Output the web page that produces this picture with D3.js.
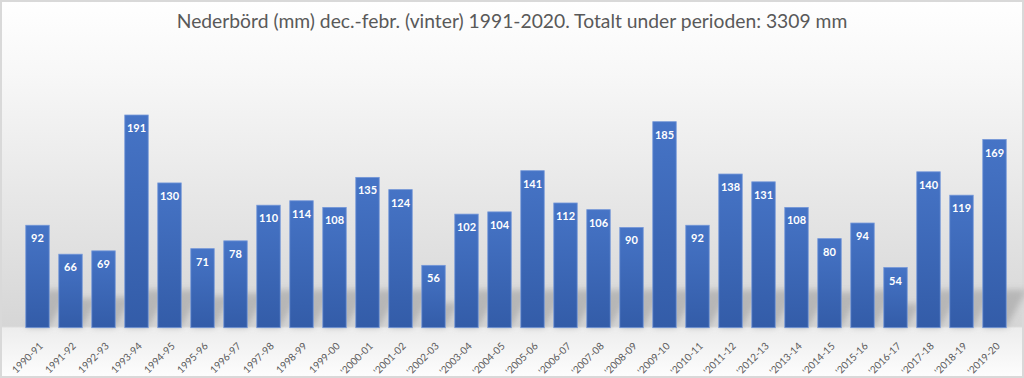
<!DOCTYPE html>
<html>
<head>
<meta charset="utf-8">
<script src="https://cdn.jsdelivr.net/npm/d3@7"></script>
<style>
  html, body { margin: 0; padding: 0; background: #ffffff; }
  svg { display: block; }
</style>
</head>
<body>
<div id="chart"></div>
<script>
const titleText = "Nederbörd (mm) dec.-febr. (vinter) 1991-2020. Totalt under perioden: 3309 mm";
const categories = ["1990-91","1991-92","1992-93","1993-94","1994-95","1995-96","1996-97","1997-98","1998-99","1999-00",
  "'2000-01","'2001-02","'2002-03","'2003-04","'2004-05","'2005-06","'2006-07","'2007-08","'2008-09","'2009-10",
  "'2010-11","'2011-12","'2012-13","'2013-14","'2014-15","'2015-16","'2016-17","'2017-18","'2018-19","'2019-20"];
const values = [92,66,69,191,130,71,78,110,114,108,135,124,56,102,104,141,112,106,90,185,92,138,131,108,80,94,54,140,119,169];

const W = 1024, H = 378;
const svg = d3.select("#chart").append("svg").attr("width", W).attr("height", H);
const defs = svg.append("defs");

const bg = defs.append("linearGradient").attr("id","bg").attr("x1",0).attr("y1",0).attr("x2",0).attr("y2",1);
bg.append("stop").attr("offset","0%").attr("stop-color","#ffffff");
bg.append("stop").attr("offset","20%").attr("stop-color","#f7f7f7");
bg.append("stop").attr("offset","86.5%").attr("stop-color","#d6d6d6");
bg.append("stop").attr("offset","87%").attr("stop-color","#ededed");
bg.append("stop").attr("offset","100%").attr("stop-color","#fdfdfd");

const barG = defs.append("linearGradient").attr("id","barg").attr("x1",0).attr("y1",0).attr("x2",0).attr("y2",1);
barG.append("stop").attr("offset","0%").attr("stop-color","#4674c6");
barG.append("stop").attr("offset","100%").attr("stop-color","#335ca8");

const blur = defs.append("filter").attr("id","blur").attr("x","-50%").attr("y","-50%").attr("width","200%").attr("height","200%");
blur.append("feGaussianBlur").attr("stdDeviation", 3);

svg.append("rect").attr("x",1).attr("y",1).attr("width",W-2).attr("height",H-2)
  .attr("fill","url(#bg)").attr("stroke","#d9d9d9").attr("stroke-width",2);

const x = d3.scaleBand().domain(categories).range([21, 1011]).paddingInner(0.29).paddingOuter(0.145);
const y = d3.scaleLinear().domain([0, 200]).range([327.7, 105]);

// shadows
const sh = svg.append("g").attr("filter","url(#blur)");
sh.selectAll("path").data(values).join("path")
  .attr("d", (d,i) => {
    const x0 = x(categories[i]), x1 = x0 + x.bandwidth();
    const b = y(0), hgt = Math.min(38, (y(0)-y(d))*0.4), dx = hgt*0.55;
    return `M${x0},${b} L${x1},${b} L${x1+dx},${b-hgt} L${x0+dx},${b-hgt} Z`;
  })
  .attr("fill","#8c8c8c").attr("opacity",0.45);

// bars
svg.append("g").selectAll("rect").data(values).join("rect")
  .attr("x", (d,i) => x(categories[i]))
  .attr("y", d => y(d))
  .attr("width", x.bandwidth())
  .attr("height", d => y(0) - y(d))
  .attr("fill","url(#barg)")
  .attr("stroke","#7396d8").attr("stroke-width",0.8);

// value labels
svg.append("g").selectAll("text").data(values).join("text")
  .attr("x", (d,i) => x(categories[i]) + x.bandwidth()/2)
  .attr("y", d => y(d) + 17)
  .attr("text-anchor","middle")
  .attr("font-family","Lato, 'Open Sans', sans-serif")
  .attr("font-weight","bold")
  .attr("font-size","11px")
  .attr("fill","#ffffff")
  .text(d => d);

// x axis
const xAxis = d3.axisBottom(x).tickSize(0).tickPadding(0);
const ax = svg.append("g").attr("transform", `translate(0,${y(0)})`).call(xAxis);
ax.select(".domain").remove();
ax.selectAll("text")
  .attr("font-family","Lato, 'Open Sans', sans-serif")
  .attr("font-size","10px")
  .attr("fill","#595959")
  .attr("text-anchor","end")
  .attr("dy", null)
  .attr("transform","translate(6,19) rotate(-45)");

// title
svg.append("text")
  .attr("x", 512).attr("y", 28)
  .attr("text-anchor","middle")
  .attr("font-family","Lato, 'Open Sans', sans-serif")
  .attr("font-size","19.3px")
  .attr("fill","#595959")
  .text(titleText);
</script>
</body>
</html>
